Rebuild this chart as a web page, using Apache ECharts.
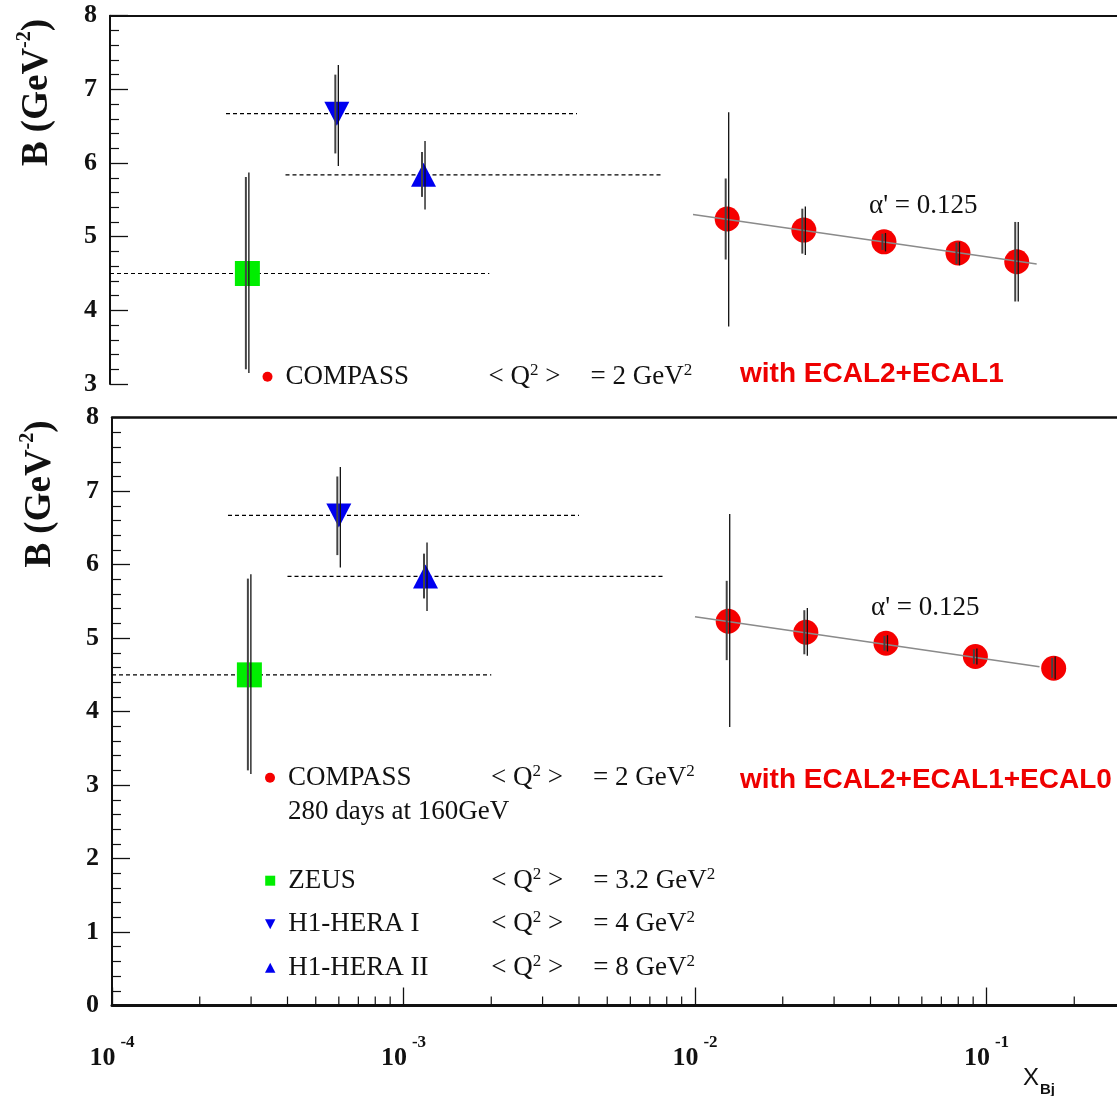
<!DOCTYPE html>
<html>
<head>
<meta charset="utf-8">
<title>B slope vs x_Bj</title>
<script src="https://cdn.jsdelivr.net/npm/echarts@6/dist/echarts.min.js"></script>
<style>
  html, body { margin: 0; padding: 0; background: #fff; }
  #chart { width: 1117px; height: 1096px; }
</style>
</head>
<body>
<div id="chart"></div>
<script>
// values
// COMPASS, upper panel (ECAL2+ECAL1)
const compassTopX = [0.0131, 0.0240, 0.0452, 0.0811, 0.129];
const compassTopB = [5.24, 5.09, 4.93, 4.78, 4.66];
const compassTopStat = [[4.69, 5.79], [4.77, 5.38], [4.82, 5.04], [4.63, 4.92], [4.12, 5.20]];
const compassTopTot = [[3.78, 6.69], [4.75, 5.41], [4.80, 5.05], [4.61, 4.93], [4.12, 5.20]];
const compassTopFit = [[0.0100, 5.30], [0.151, 4.63]];

// COMPASS, lower panel (ECAL2+ECAL1+ECAL0)
const compassBotX = [0.0130, 0.0240, 0.0452, 0.0916, 0.170];
const compassBotB = [5.23, 5.08, 4.93, 4.75, 4.59];
const compassBotStat = [[4.70, 5.78], [4.78, 5.38], [4.83, 5.03], [4.65, 4.85], [4.46, 4.73]];
const compassBotTot = [[3.79, 6.69], [4.76, 5.41], [4.82, 5.04], [4.64, 4.86], [4.44, 4.75]];
const compassBotFit = [[0.0100, 5.29], [0.152, 4.61]];

// HERA points (same in both panels)
const zeusX = [2.96e-4];
const zeusB = [4.50];
const zeusStat = [[3.20, 5.81]];
const zeusTot = [[3.15, 5.87]];
const zeusRange = [1e-4, 2e-3];

const hera1X = [6.0e-4];
const hera1B = [6.67];
const hera1Stat = [[6.13, 7.20]];
const hera1Tot = [[5.96, 7.33]];
const hera1Range = [2.5e-4, 4e-3];

const hera2X = [1.19e-3];
const hera2B = [5.84];
const hera2Stat = [[5.54, 6.15]];
const hera2Tot = [[5.37, 6.30]];
const hera2Range = [4e-4, 7.8e-3];

// legend text
const legendNames = ['COMPASS', 'ZEUS', 'H1-HERA I', 'H1-HERA II'];
const legendQ2 = ['2', '3.2', '4', '8'];
const yTicksTop = [3, 8];
const yTicksBot = [0, 8];

const serif = 'Liberation Serif, Times New Roman, serif';
const sans = 'Liberation Sans, Arial, sans-serif';
const xMin = 1e-4;
// the frame runs past the right edge of the picture: cut the axis there
const decadePx = 291.5;
const xMaxTop = Math.pow(10, -4 + (1117 - 110) / decadePx);
const xMaxBot = Math.pow(10, -4 + (1117 - 112) / decadePx);

const downTri = 'path://M0,0L10,0L5,9.6Z';
const upTri = 'path://M5,0L10,9.6L0,9.6Z';
const square = 'path://M0,0H10V10H0Z';

// minor ticks of the log axis (2..9 in every decade)
const minorX = [];
for (let d = -4; d < 0; d++) {
  for (let k = 2; k <= 9; k++) minorX.push(k * Math.pow(10, d));
}

const chart = echarts.init(document.getElementById('chart'));

const errorBars = (xs, stat, tot, xi, yi) => ({
  type: 'custom',
  xAxisIndex: xi,
  yAxisIndex: yi,
  silent: true,
  z: 5,
  data: xs.map((x, i) => [x, stat[i][0], stat[i][1], tot[i][0], tot[i][1]]),
  encode: { x: 0, y: [1, 2, 3, 4] },
  renderItem: (params, api) => {
    const x = api.value(0)
    const a = api.coord([x, api.value(1)])
    const b = api.coord([x, api.value(2)])
    const c = api.coord([x, api.value(3)])
    const d = api.coord([x, api.value(4)])
    return {
      type: 'group',
      children: [
        { type: 'line', shape: { x1: a[0] - 1.5, y1: a[1], x2: b[0] - 1.5, y2: b[1] }, style: { stroke: '#444', lineWidth: 2 } },
        { type: 'line', shape: { x1: c[0] + 1.5, y1: c[1], x2: d[0] + 1.5, y2: d[1] }, style: { stroke: '#111', lineWidth: 1.3 } }
      ]
    }
  }
})

const rangeLine = (range, b, xi, yi) => ({
  type: 'line',
  xAxisIndex: xi,
  yAxisIndex: yi,
  silent: true,
  symbol: 'none',
  z: 1,
  data: [[range[0], b], [range[1], b]],
  lineStyle: { color: '#000', width: 1.2, type: [4, 3] }
})

const points = (name, xs, bs, symbol, size, color, xi, yi) => ({
  type: 'scatter',
  name: name,
  xAxisIndex: xi,
  yAxisIndex: yi,
  symbol: symbol,
  symbolSize: size,
  z: 2,
  data: xs.map((x, i) => [x, bs[i]]),
  itemStyle: { color: color, opacity: 1 }
})

const panel = (xi, yi, cX, cB, cStat, cTot, cFit) => [
  rangeLine(zeusRange, zeusB[0], xi, yi),
  rangeLine(hera1Range, hera1B[0], xi, yi),
  rangeLine(hera2Range, hera2B[0], xi, yi),
  points('ZEUS', zeusX, zeusB, 'rect', 25, '#00ee00', xi, yi),
  points('H1-HERA I', hera1X, hera1B, downTri, [25, 24], '#0000f0', xi, yi),
  points('H1-HERA II', hera2X, hera2B, upTri, [25, 24], '#0000f0', xi, yi),
  points('COMPASS', cX, cB, 'circle', 25, '#f50000', xi, yi),
  {
    type: 'line',
    xAxisIndex: xi,
    yAxisIndex: yi,
    silent: true,
    symbol: 'none',
    z: 3,
    data: cFit,
    lineStyle: { color: '#8a8a8a', width: 1.5 }
  },
  errorBars(zeusX, zeusStat, zeusTot, xi, yi),
  errorBars(hera1X, hera1Stat, hera1Tot, xi, yi),
  errorBars(hera2X, hera2Stat, hera2Tot, xi, yi),
  errorBars(cX, cStat, cTot, xi, yi)
]

// rich text for the legend columns
const legendRich = {
  n: { fontFamily: serif, fontSize: 27, color: '#111', width: 203, align: 'left', lineHeight: 30 },
  q: { fontFamily: serif, fontSize: 27, color: '#111', lineHeight: 30 },
  g: { fontFamily: serif, fontSize: 27, color: '#111', width: 52, align: 'left', lineHeight: 30 },
  v: { fontFamily: serif, fontSize: 27, color: '#111', lineHeight: 30 },
  s: { fontFamily: serif, fontSize: 17, color: '#111', lineHeight: 12, verticalAlign: 'top' }
}
const legendFormatter = (name) => {
  const q = legendQ2[legendNames.indexOf(name)]
  return `{n|${name}}{q|< Q}{s|2}{g| >}{v|= ${q} GeV}{s|2}`
}
const legendIcons = { 'COMPASS': 'circle', 'ZEUS': square, 'H1-HERA I': downTri, 'H1-HERA II': upTri }
const makeLegend = (names, left, top) => ({
  orient: 'vertical',
  left: left,
  top: top,
  padding: 0,
  itemGap: 15,
  itemWidth: 26,
  itemHeight: 10,
  selectedMode: false,
  data: names.map(n => ({ name: n, icon: legendIcons[n] })),
  formatter: legendFormatter,
  textStyle: { rich: legendRich }
})

const yAxisBase = (gridIndex, range) => ({
  type: 'value',
  gridIndex: gridIndex,
  min: range[0],
  max: range[1],
  interval: 1,
  axisLine: { show: true, lineStyle: { color: '#111', width: 2 } },
  axisTick: { show: true, inside: true, length: 18, lineStyle: { color: '#111', width: 1.3 } },
  minorTick: { show: true, splitNumber: 5, length: 9, lineStyle: { color: '#111', width: 1.2 } },
  axisLabel: { margin: 13, color: '#111', fontFamily: serif, fontWeight: 'bold', fontSize: 26 },
  splitLine: { show: false },
  minorSplitLine: { show: false }
})

const frameAxis = (gridIndex, max, width) => ({
  type: 'log',
  gridIndex: gridIndex,
  position: 'top',
  min: xMin,
  max: max,
  axisLine: { show: true, lineStyle: { color: '#111', width: width } },
  axisTick: { show: false },
  axisLabel: { show: false },
  splitLine: { show: false }
})

const nameText = (x, y) => ({
  type: 'text',
  x: x,
  y: y,
  rotation: Math.PI / 2,
  style: {
    text: '{a|B (GeV}{s|-2}{a|)}',
    align: 'center',
    verticalAlign: 'middle',
    rich: {
      a: { fontFamily: serif, fontWeight: 'bold', fontSize: 37, fill: '#111', lineHeight: 44 },
      s: { fontFamily: serif, fontWeight: 'bold', fontSize: 20, fill: '#111', lineHeight: 20, verticalAlign: 'top' }
    }
  }
})

const plainText = (x, y, text, font, color) => ({
  type: 'text',
  x: x,
  y: y,
  style: { text: text, font: font, fill: color, align: 'left', verticalAlign: 'middle' }
})

const option = {
  animation: false,
  backgroundColor: '#fff',
  grid: [
    { left: 110, top: 15.7, right: 0, height: 368.3 },
    { left: 112, top: 417.7, right: 0, height: 587.8 }
  ],
  xAxis: [
    frameAxis(0, xMaxTop, 2),
    {
      type: 'log',
      gridIndex: 1,
      position: 'bottom',
      min: xMin,
      max: xMaxBot,
      axisLine: { show: true, lineStyle: { color: '#111', width: 3 } },
      axisTick: { show: true, inside: true, length: 18, lineStyle: { color: '#111', width: 1.3 } },
      axisLabel: {
        margin: 29,
        showMaxLabel: false,
        formatter: (v) => `{b|10}{s|${Math.round(Math.log10(v))}}`,
        rich: {
          b: { fontFamily: serif, fontWeight: 'bold', fontSize: 26, color: '#111', lineHeight: 48 },
          s: { fontFamily: serif, fontWeight: 'bold', fontSize: 17, color: '#111', lineHeight: 16, verticalAlign: 'top', padding: [0, 0, 0, 5] }
        }
      },
      splitLine: { show: false }
    },
    frameAxis(1, xMaxBot, 2.5)
  ],
  yAxis: [yAxisBase(0, yTicksTop), yAxisBase(1, yTicksBot)],
  legend: [
    makeLegend(['COMPASS'], 262.5, 361.7),
    makeLegend(['COMPASS'], 265, 762.7),
    makeLegend(['ZEUS', 'H1-HERA I', 'H1-HERA II'], 265, 865.7)
  ],
  graphic: [
    nameText(37, 92.5),
    nameText(40, 494),
    plainText(869, 206, "α' = 0.125", '27px ' + serif, '#111'),
    plainText(871, 608, "α' = 0.125", '27px ' + serif, '#111'),
    plainText(740, 374, 'with ECAL2+ECAL1', 'bold 28px ' + sans, '#ee0000'),
    plainText(740, 780, 'with ECAL2+ECAL1+ECAL0', 'bold 28px ' + sans, '#ee0000'),
    plainText(288, 812, '280 days at 160GeV', '27px ' + serif, '#111'),
    plainText(1023, 1078, 'X', '24px ' + sans, '#111'),
    plainText(1040, 1090, 'Bj', 'bold 15px ' + sans, '#111')
  ],
  series: [
    ...panel(0, 0, compassTopX, compassTopB, compassTopStat, compassTopTot, compassTopFit),
    ...panel(1, 1, compassBotX, compassBotB, compassBotStat, compassBotTot, compassBotFit),
    {
      type: 'custom',
      xAxisIndex: 1,
      yAxisIndex: 1,
      silent: true,
      z: 6,
      data: minorX.map(v => [v, 0]),
      renderItem: (params, api) => {
        const p = api.coord([api.value(0), 0])
        return { type: 'line', shape: { x1: p[0], y1: p[1], x2: p[0], y2: p[1] - 9 }, style: { stroke: '#111', lineWidth: 1.2 } }
      }
    }
  ]
}

chart.setOption(option)
</script>
</body>
</html>
